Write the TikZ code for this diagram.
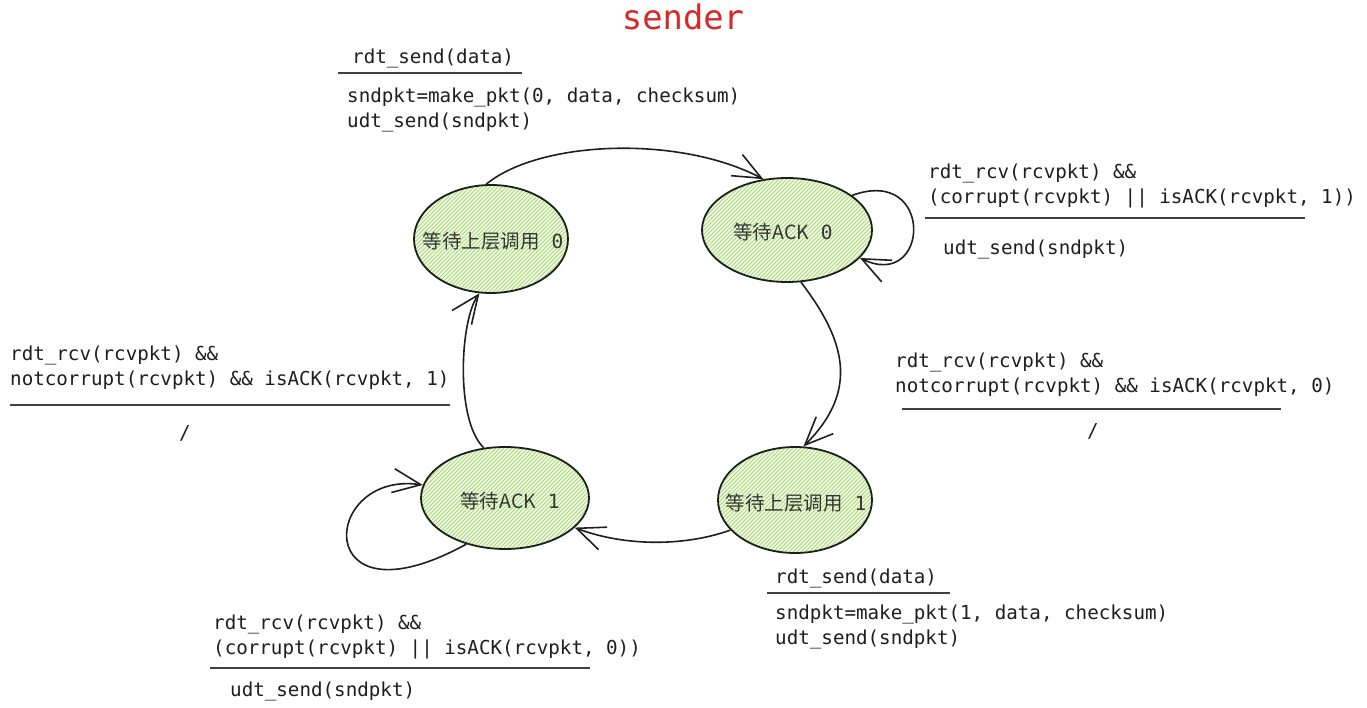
\documentclass[tikz,border=0pt]{standalone}
\usepackage{fontspec}
\setmonofont{DejaVu Sans Mono}
\newfontfamily\cjk{Noto Sans CJK SC}
\usetikzlibrary{arrows.meta,calc,shapes.geometric}
\definecolor{ink}{HTML}{1E1E1E}
\definecolor{hatchg}{RGB}{172,218,118}
\definecolor{fillg}{RGB}{242,250,234}
\definecolor{titlered}{RGB}{214,40,40}
\tikzset{
  state/.style={ellipse, draw=ink, line width=1.8pt, inner sep=0pt, fill=fillg,
    path picture={\foreach \k in {-150,-146,...,190}{\draw[hatchg, line width=0.9pt] ($(path picture bounding box.south west)+(\k pt,0pt)$) -- ++(130pt,130pt);}}},
  stext/.style={font=\cjk\fontsize{19.5}{22}\selectfont, inner sep=0pt, text=ink!90},
  code/.style={font=\ttfamily\fontsize{19.2}{24.5}\selectfont, align=left, anchor=north west, inner sep=0pt, text=ink},
  arr/.style={draw=ink, line width=1.6pt, -{Straight Barb[length=28pt,width=24pt]}},
  rule/.style={draw=ink!85, line width=1.5pt},
}
\begin{document}
\begin{tikzpicture}[x=1pt,y=-1pt]
\useasboundingbox (0,0) rectangle (1367,708);
% title
\node[font=\ttfamily\fontsize{33.8}{36}\selectfont, text=titlered, inner sep=0pt] (title) at (683,17) {sender};
% states
\node[state, minimum width=154pt, minimum height=108pt] (e1) at (491,239) {};
\node[stext] (e1t) at (493,241) {等待上层调用\texttt{ 0}};
\node[state, minimum width=170pt, minimum height=104pt] (e2) at (787,230) {};
\node[stext] (e2t) at (783,232) {等待ACK\texttt{ 0}};
\node[state, minimum width=168pt, minimum height=102pt] (e3) at (505,498) {};
\node[stext] (e3t) at (510,501) {等待ACK\texttt{ 1}};
\node[state, minimum width=154pt, minimum height=106pt] (e4) at (795,500) {};
\node[stext] (e4t) at (796,503) {等待上层调用\texttt{ 1}};
% connectors
\draw[arr] (e1.95) .. controls (540,140) and (680,135) .. (e2.115);
\draw[arr] (e2.28) .. controls (935,165) and (930,292) .. (e2.-21);
\draw[arr] (e2.-75) .. controls (845,340) and (860,390) .. (e4.81);
\draw[arr] (e4.205) .. controls (680,548) and (620,545) .. (e3.-23);
\draw[arr] (e3.113) .. controls (455,420) and (460,320) .. (e1.-102);
\draw[arr] (e3.-130) .. controls (310,630) and (320,470) .. (e3.171);
% labels: top
\node[code] (la1) at (352,49) {rdt\_send(data)};
\draw[rule] (338,73) -- (522,73);
\node[code] (la2) at (347,88) {sndpkt=make\_pkt(0, data, checksum)\\udt\_send(sndpkt)};
% labels: top right
\node[code] (lb1) at (928,164) {rdt\_rcv(rcvpkt) \&\&\\(corrupt(rcvpkt) || isACK(rcvpkt, 1))};
\draw[rule] (925,218) -- (1305,218);
\node[code] (lb2) at (943,240) {udt\_send(sndpkt)};
% labels: right
\node[code] (lc1) at (895,353) {rdt\_rcv(rcvpkt) \&\&\\notcorrupt(rcvpkt) \&\& isACK(rcvpkt, 0)};
\draw[rule] (902,409) -- (1281,409);
\node[code, anchor=center] (lc2) at (1093,431) {/};
% labels: left
\node[code] (ld1) at (10,346) {rdt\_rcv(rcvpkt) \&\&\\notcorrupt(rcvpkt) \&\& isACK(rcvpkt, 1)};
\draw[rule] (10,405) -- (450,405);
\node[code, anchor=center] (ld2) at (185,433) {/};
% labels: bottom right
\node[code] (le1) at (775,569) {rdt\_send(data)};
\draw[rule] (767,593) -- (950,593);
\node[code] (le2) at (775,605) {sndpkt=make\_pkt(1, data, checksum)\\udt\_send(sndpkt)};
% labels: bottom left
\node[code] (lf1) at (213,615) {rdt\_rcv(rcvpkt) \&\&\\(corrupt(rcvpkt) || isACK(rcvpkt, 0))};
\draw[rule] (210,668) -- (590,668);
\node[code] (lf2) at (230,682) {udt\_send(sndpkt)};
\end{tikzpicture}
\end{document}
